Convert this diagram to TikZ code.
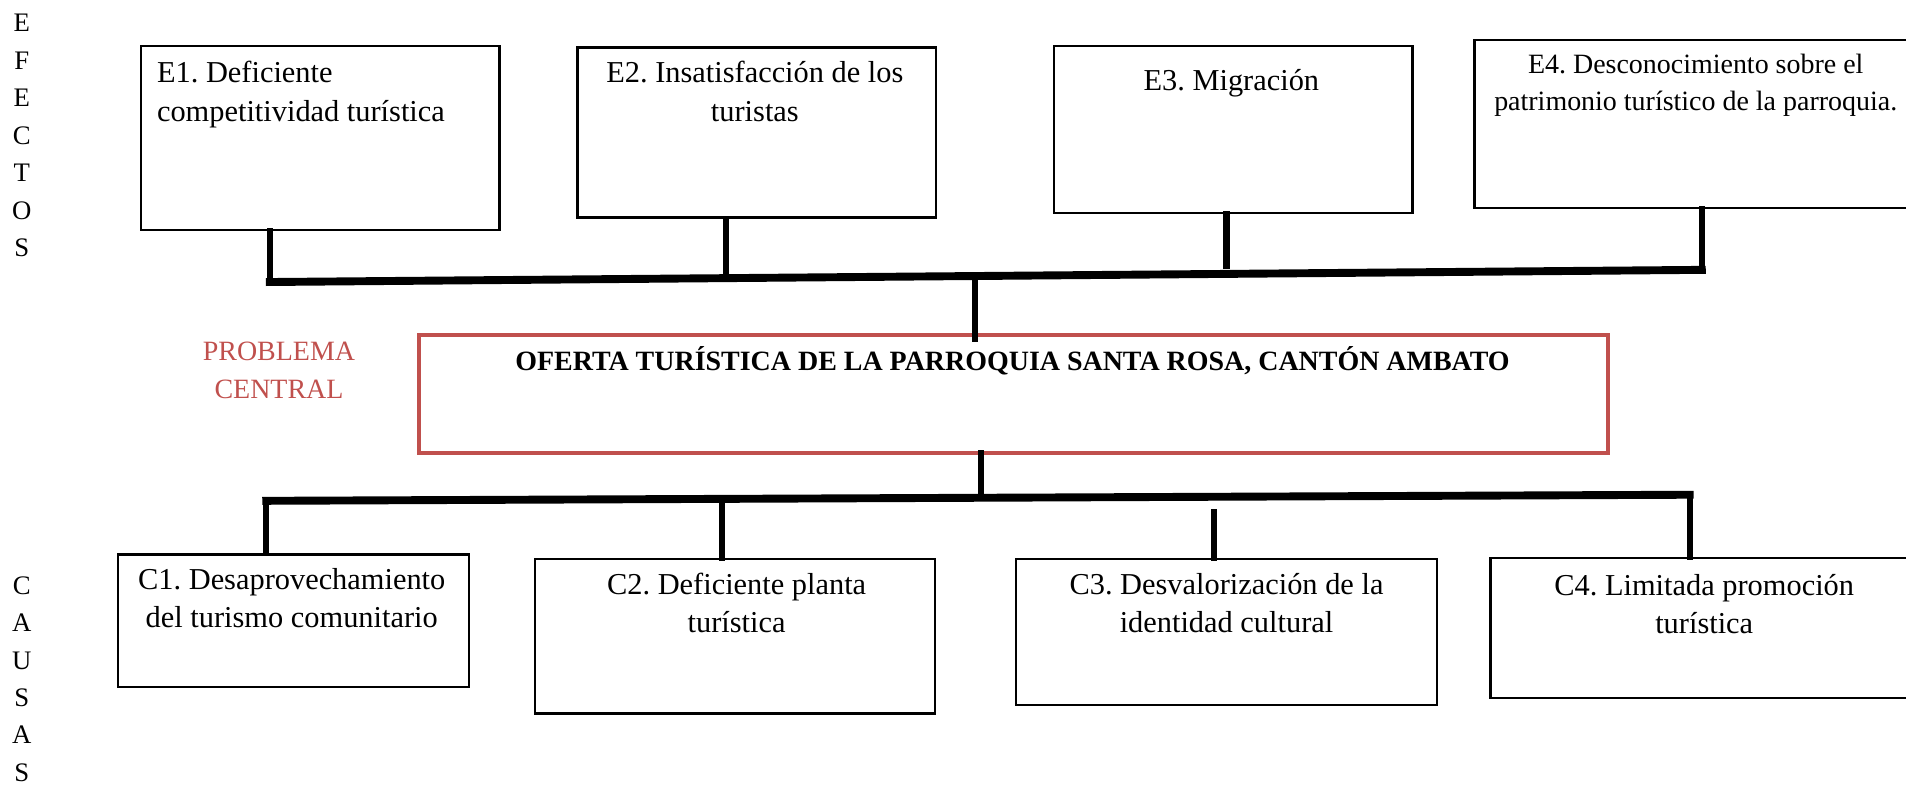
\documentclass[tikz,border=0pt]{standalone}
\usepackage{fontspec}
\setmainfont{Liberation Serif}
\definecolor{probred}{RGB}{192,80,77}
\newcommand{\topstrut}{\rule{0pt}{0.95em}}
\tikzset{
  box/.style={draw=black, line width=2pt, inner sep=0pt, anchor=north west},
  redbox/.style={draw=probred, line width=3.5pt, inner sep=0pt, anchor=north west},
  txt/.style={inner sep=0pt, font=\fontsize{25}{31.5}\selectfont, align=center, anchor=north, execute at begin node=\topstrut},
  side/.style={inner sep=0pt, font=\fontsize{22}{30.8}\selectfont, align=center, anchor=north, execute at begin node=\topstrut},
  conn/.style={line width=5pt, line cap=rect},
  bar/.style={line width=6.5pt, line cap=rect, line join=miter}
}
\begin{document}
\frenchspacing
\begin{tikzpicture}[x=1pt,y=-1pt]
\useasboundingbox (0,0) rectangle (1568,651);
% side labels
\node[side] (efectos) at (18,11.6) {E\\F\\E\\C\\T\\O\\S};
\node[side] (causas) at (18,474) {C\\A\\U\\S\\A\\S};
% effect boxes
\node[box, minimum width=295pt, minimum height=151pt] (e1) at (115,37) {};
\node[box, minimum width=295pt, minimum height=140pt] (e2) at (474,38) {};
\node[box, minimum width=295pt, minimum height=137pt] (e3) at (866,37) {};
\node[box, minimum width=360pt, minimum height=138pt] (e4) at (1212,32) {};
\node[txt, align=left, anchor=north west] (e1t) at (129,50.25) {E1. Deficiente\\competitividad turística};
\node[txt] (e2t) at (621,50.25) {E2. Insatisfacción de los\\turistas};
\node[txt] (e3t) at (1013,50.25) {E3. Migración};
\node[txt, font=\fontsize{23}{31}\selectfont] (e4t) at (1395,44.15) {E4. Desconocimiento sobre el\\patrimonio turístico de la parroquia.};
% central problem
\node[redbox, minimum width=978pt, minimum height=97pt] (cb) at (343,274) {};
\node[txt, font=\fontsize{23}{28}\selectfont\bfseries] (cbt) at (833,283.15) {OFERTA TURÍSTICA DE LA PARROQUIA SANTA ROSA, CANTÓN AMBATO};
\node[txt, font=\fontsize{23}{31}\selectfont, text=probred] (pc) at (229.5,281.15) {PROBLEMA\\CENTRAL};
% cause boxes
\node[box, minimum width=289pt, minimum height=109pt] (c1) at (96,455) {};
\node[box, minimum width=329pt, minimum height=127pt] (c2) at (439,459) {};
\node[box, minimum width=346pt, minimum height=120pt] (c3) at (835,459) {};
\node[box, minimum width=350pt, minimum height=115pt] (c4) at (1225,458) {};
\node[txt] (c1t) at (240,467.25) {C1. Desaprovechamiento\\del turismo comunitario};
\node[txt] (c2t) at (606,471.25) {C2. Deficiente planta\\turística};
\node[txt] (c3t) at (1009,471.25) {C3. Desvalorización de la\\identidad cultural};
\node[txt] (c4t) at (1402,472.25) {C4. Limitada promoción\\turística};
% junction coordinates
\coordinate (j1) at (222,232);
\coordinate (j2) at (597,229);
\coordinate (j3) at (1009,219);
\coordinate (j4) at (1400,222);
\coordinate (jt) at (802,228);
\coordinate (jb) at (807,410);
\coordinate (k1) at (219,412);
\coordinate (k2) at (594,411);
\coordinate (k3) at (999,421);
\coordinate (k4) at (1390,407);
% effect connectors
\draw[conn] (e1.south -| j1) -- (j1);
\draw[conn] (e2.south -| j2) -- (j2);
\draw[conn] (e3.south -| j3) -- (j3);
\draw[conn] (e4.south -| j4) -- (j4);
\draw[bar] (j1) -- (j4);
\draw[conn] (jt) -- ([yshift=-5pt]cb.north -| jt);
% cause connectors
\draw[conn] ([yshift=2pt]cb.south -| jb) -- (jb);
\draw[bar] (k1) -- (k4);
\draw[conn] (k1) -- (c1.north -| k1);
\draw[conn] (k2) -- (c2.north -| k2);
\draw[conn] (k3) -- (c3.north -| k3);
\draw[conn] (k4) -- (c4.north -| k4);
\end{tikzpicture}
\end{document}
